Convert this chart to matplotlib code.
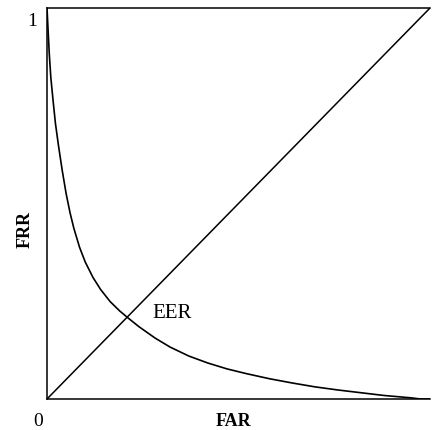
import matplotlib.pyplot as plt

# FAR / FRR trade-off curve
far = [0.000, 0.003, 0.006, 0.010, 0.016, 0.022, 0.030, 0.040, 0.050, 0.060,
       0.070, 0.085, 0.100, 0.120, 0.140, 0.165, 0.190, 0.212, 0.240, 0.282,
       0.321, 0.370, 0.420, 0.470, 0.520, 0.580, 0.640, 0.700, 0.760, 0.820,
       0.880, 0.950, 0.975, 1.000]
frr = [1.000, 0.940, 0.882, 0.822, 0.762, 0.705, 0.648, 0.583, 0.525, 0.477,
       0.437, 0.388, 0.350, 0.311, 0.280, 0.249, 0.225, 0.207, 0.185, 0.156,
       0.133, 0.110, 0.092, 0.077, 0.065, 0.052, 0.041, 0.031, 0.023, 0.016,
       0.009, 0.003, 0.000, 0.000]
diag = [0, 1]

plt.rcParams['font.family'] = ['Liberation Serif', 'DejaVu Serif']

fig = plt.figure(figsize=(4.32, 4.31), dpi=100)
ax = fig.add_axes([47 / 432, 31 / 431, 383 / 432, 391 / 431])

ax.plot(far, frr, color='black', linewidth=1.2)
ax.plot(diag, diag, color='black', linewidth=1.1)

ax.set_xlim(0, 1)
ax.set_ylim(0, 1)
ax.set_xticks([])
ax.set_yticks([])
ax.spines['right'].set_visible(False)
for s in ['left', 'top', 'bottom']:
    ax.spines[s].set_linewidth(1.1)

ax.text(-0.023, -0.054, '0', ha='center', va='center', fontsize=14, clip_on=False)
ax.text(-0.039, 0.968, '1', ha='center', va='center', fontsize=14, clip_on=False)
ax.text(1.005, -0.054, '1', ha='left', va='center', fontsize=14, clip_on=False)
ax.text(0.486, -0.054, 'FAR', ha='center', va='center', fontsize=13,
        fontweight='bold', clip_on=False)
ax.text(-0.057, 0.435, 'FRR', ha='center', va='center', fontsize=13,
        fontweight='bold', rotation=90, clip_on=False)
ax.text(0.274, 0.222, 'EER', ha='left', va='center', fontsize=15)

fig.savefig('out.png', dpi=100)
